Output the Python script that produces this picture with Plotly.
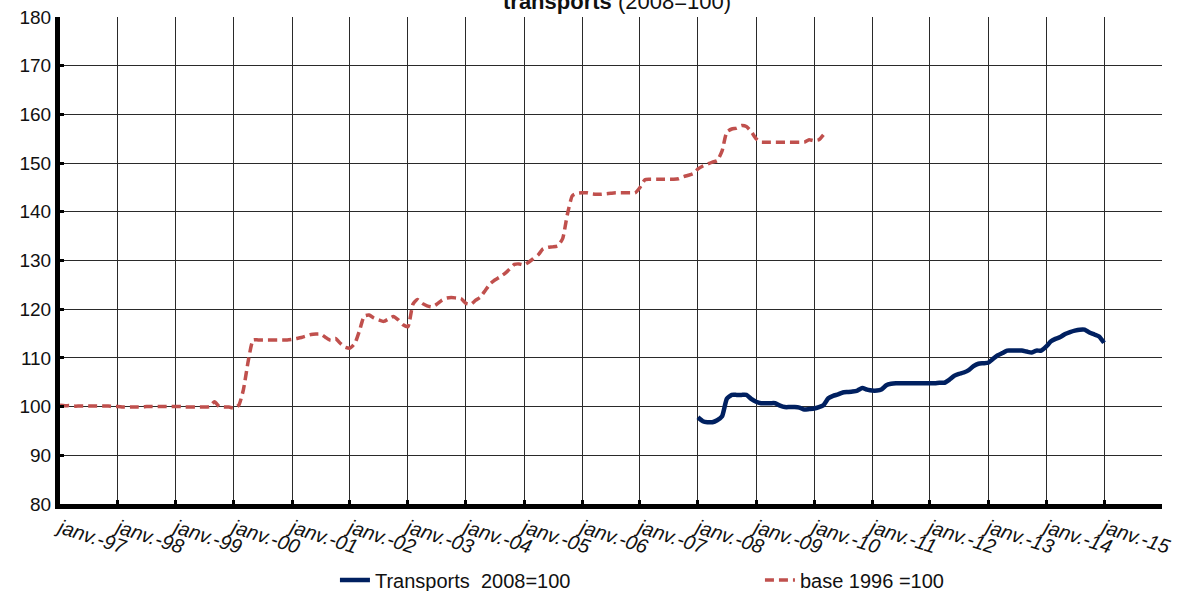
import pandas as pd
import plotly.graph_objects as go

# série base 1996 = 100, mensuelle à partir de janv. 1997
base_1996 = [
    100.3, 100.2, 100.2, 100.1, 100.1, 100.1, 100.1, 100.1, 100.1, 100.1, 100.1, 100.0,   # 1997
    100.0, 99.9, 99.9, 99.9, 99.9, 99.9, 100.0, 100.0, 100.0, 100.0, 100.0, 100.0,        # 1998
    100.0, 100.0, 99.9, 99.9, 99.9, 99.9, 99.9, 100.0, 101.0, 100.0, 99.9, 99.9,          # 1999
    99.7, 100.3, 103.5, 109.5, 113.7, 113.7, 113.7, 113.7, 113.7, 113.7, 113.7, 113.7,    # 2000
    113.8, 114.0, 114.2, 114.5, 114.8, 114.9, 114.9, 114.2, 113.6, 114.0, 113.0, 112.2,   # 2001
    112.0, 113.0, 115.5, 118.6, 118.8, 118.2, 117.8, 117.5, 118.0, 118.5, 117.8, 116.8,   # 2002
    116.4, 121.0, 122.0, 121.2, 120.7, 120.5, 121.0, 121.8, 122.3, 122.4, 122.3, 122.2,   # 2003
    121.2, 121.0, 121.8, 122.5, 123.8, 125.2, 126.0, 126.6, 127.3, 128.2, 129.2, 129.3,   # 2004
    129.1, 129.7, 130.4, 131.2, 132.4, 132.7, 132.8, 133.0, 134.5, 139.5, 143.3, 143.8,   # 2005
    143.9, 143.9, 143.7, 143.6, 143.6, 143.7, 143.8, 143.9, 143.9, 143.9, 143.9, 143.9,   # 2006
    145.0, 146.6, 146.7, 146.7, 146.7, 146.7, 146.7, 146.7, 146.8, 147.2, 147.5, 147.8,   # 2007
    148.8, 149.4, 149.8, 150.2, 150.5, 152.5, 156.4, 157.0, 157.2, 157.7, 157.5, 156.5,   # 2008
    155.0, 154.3, 154.3, 154.3, 154.3, 154.3, 154.3, 154.3, 154.3, 154.3, 154.3, 154.8,   # 2009
    154.6, 154.8, 155.8,                                                                  # 2010
]

# série Transports 2008 = 100, mensuelle à partir de janv. 2008
transports_2008 = [
    97.8, 97.0, 96.8, 96.8, 97.2, 98.0, 101.6, 102.4, 102.4, 102.4, 102.4, 101.6,        # 2008
    101.0, 100.7, 100.7, 100.7, 100.7, 100.2, 99.9, 99.9, 99.9, 99.8, 99.4, 99.5,        # 2009
    99.6, 99.9, 100.3, 101.7, 102.2, 102.5, 102.9, 103.0, 103.1, 103.3, 103.8, 103.5,    # 2010
    103.3, 103.3, 103.5, 104.4, 104.7, 104.8, 104.8, 104.8, 104.8, 104.8, 104.8, 104.8,  # 2011
    104.8, 104.8, 104.9, 104.9, 105.5, 106.3, 106.7, 107.0, 107.5, 108.3, 108.8, 108.9,  # 2012
    109.0, 109.8, 110.5, 111.0, 111.5, 111.5, 111.5, 111.5, 111.3, 111.1, 111.5, 111.5,  # 2013
    112.3, 113.4, 113.9, 114.3, 114.9, 115.3, 115.6, 115.8, 115.8, 115.2, 114.8, 114.4,  # 2014
    113.1,                                                                                # 2015
]

years = list(range(1997, 2017))
tick_labels = ['janv.-97', 'janv.-98', 'janv.-99', 'janv.-00', 'janv.-01', 'janv.-02',
               'janv.-03', 'janv.-04', 'janv.-05', 'janv.-06', 'janv.-07', 'janv.-08',
               'janv.-09', 'janv.-10', 'janv.-11', 'janv.-12', 'janv.-13', 'janv.-14',
               'janv.-15', '']

dates_base = pd.date_range('1997-01-01', periods=len(base_1996), freq='MS')
dates_transp = pd.date_range('2008-01-01', periods=len(transports_2008), freq='MS')

FONT = 'Liberation Sans, Arial, sans-serif'

fig = go.Figure()

fig.add_trace(go.Scatter(
    x=dates_transp, y=transports_2008,
    mode='lines',
    name='Transports\u00a0 2008=100',
    line=dict(color='#002060', width=4.5, shape='spline', smoothing=0.5),
))

fig.add_trace(go.Scatter(
    x=dates_base, y=base_1996,
    mode='lines',
    name='base 1996 =100',
    line=dict(color='#C0504D', width=3.5, dash='9px,5px', shape='spline', smoothing=0.5),
))

fig.update_xaxes(
    range=['1997-01-01', '2016-01-01'],
    tickmode='array',
    tickvals=[f'{y}-01-01' for y in years],
    ticktext=tick_labels,
    tickangle=18,
    tickfont=dict(family=FONT, size=20, color='#111111', style='italic'),
    showgrid=True, gridcolor='#2a2a2a', gridwidth=1.2,
    showline=True, linecolor='black', linewidth=5,
    ticks='inside', ticklen=4, tickwidth=3, tickcolor='black',
    zeroline=False,
)

fig.update_yaxes(
    range=[80, 180],
    dtick=10,
    tickfont=dict(family=FONT, size=19, color='#111111'),
    showgrid=True, gridcolor='#2a2a2a', gridwidth=1.2,
    showline=True, linecolor='black', linewidth=5,
    ticks='inside', ticklen=4, tickwidth=3, tickcolor='black',
    zeroline=False,
)

# titre coupé en haut, comme sur l'original
fig.add_annotation(
    text='<b>transports</b> (2008=100)',
    font=dict(family=FONT, size=22, color='#111111'),
    x=0.505, xref='paper', xanchor='center',
    y=1.0, yref='paper', yanchor='bottom',
    yshift=1,
    showarrow=False,
)

fig.update_layout(
    width=1185,
    height=591,
    plot_bgcolor='white',
    paper_bgcolor='white',
    showlegend=True,
    legend=dict(
        orientation='h',
        x=0.2495, xanchor='left',
        y=-0.156, yanchor='middle',
        entrywidth=380, entrywidthmode='pixels',
        font=dict(family=FONT, size=20, color='#111111'),
        bgcolor='rgba(0,0,0,0)',
    ),
    margin=dict(l=60, r=23, t=17, b=87, autoexpand=False),
    font=dict(family=FONT),
)

# pas de marge autour de la page, pas de barre d'outils
fig.write_html('out.html', config={'displayModeBar': False},
               post_script="document.body.style.margin='0';")
